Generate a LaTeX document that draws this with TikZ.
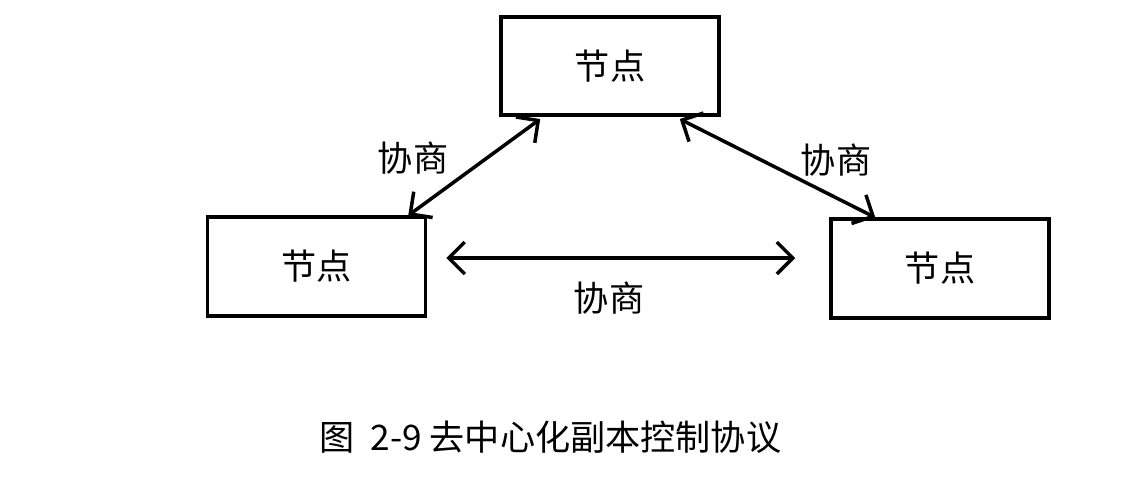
\documentclass[tikz,border=0pt]{standalone}
\usepackage{fontspec}
\setmainfont{Noto Sans CJK SC}
\usepackage{tikz}
\usetikzlibrary{calc}
\usetikzlibrary{arrows.meta}
\usetikzlibrary{positioning}
\tikzset{>={Straight Barb[length=3.2mm,width=6.4mm]}}
\tikzstyle{peer} = [draw, line width=2pt, minimum width=4.36cm, minimum height=1.97cm, font=\fontsize{20}{24}\selectfont]
\tikzstyle{talk} = [<->, line width=2pt]
\tikzstyle{lbl} = [draw=none, inner sep=1, font=\fontsize{20}{24}\selectfont]

\begin{document}
\begin{tikzpicture}
\useasboundingbox (0, 0) rectangle (22.48, 9.8);
\node [peer]  (T) at (12.2, 8.48) {节点};
\node [peer]  (L) at (6.33, 4.47) {节点};
\node [peer]  (R) at (18.8, 4.43) {节点};
\coordinate (T1) at ($(T.south west)+(0.82,-0.04)$);
\coordinate (L1) at ($(L.north east)+(-0.38,0)$);
\coordinate (T2) at ($(T.south east)+(-0.82,-0.04)$);
\coordinate (R1) at ($(R.north west)+(0.92,0)$);
\coordinate (L2) at ($(L.east)+(0.38,0.17)$);
\coordinate (R2) at ($(R.west |- L2)+(-0.68,0)$);
\draw [talk] (T1) to (L1);
\draw [talk] (T2) to (R1);
\draw [talk] (L2) to (R2);
\node [lbl]  (a) at (8.26, 6.64) {协商};
\node [lbl]  (b) at (16.72, 6.6) {协商};
\node [lbl]  (c) at (12.18, 3.84) {协商};
\node [lbl]  (cap) at (11.01, 1.06) {图~~2-9 去中心化副本控制协议};
\end{tikzpicture}
\end{document}
